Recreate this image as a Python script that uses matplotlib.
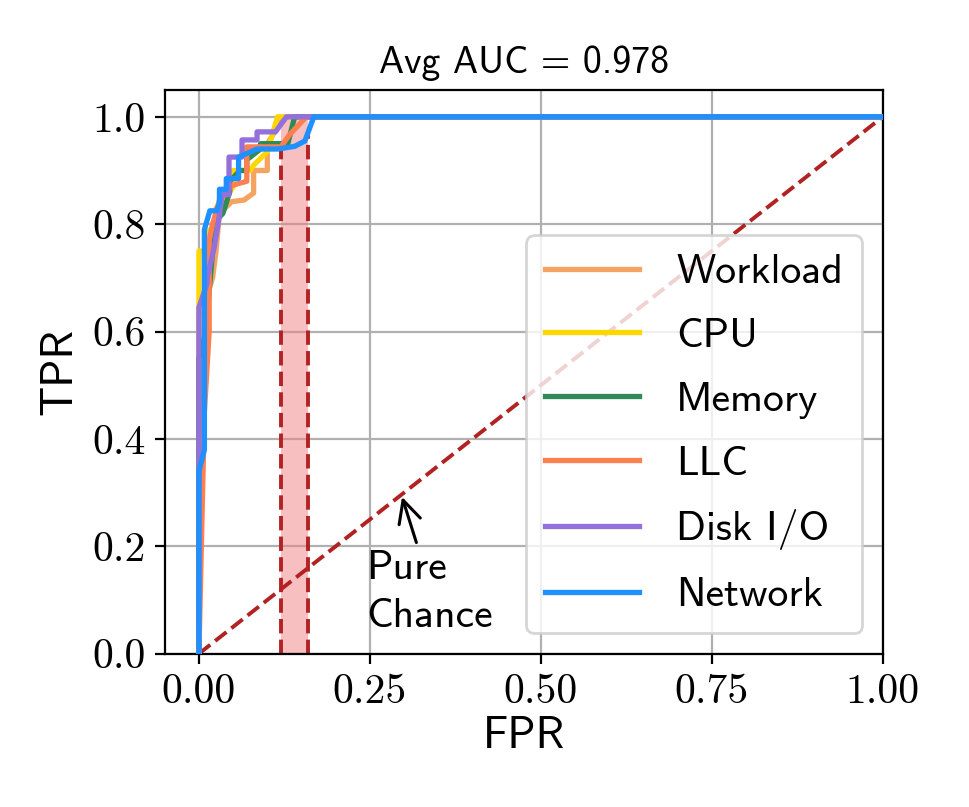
import numpy as np
import matplotlib as mpl

mpl.use("Agg")
from matplotlib import pyplot as plt

# ROC curves (FPR, TPR)
names = ["Workload", "CPU", "Memory", "LLC", "Disk I/O", "Network"]
colors = ["sandybrown", "gold", "seagreen", "coral", "mediumpurple", "dodgerblue"]

fpr_workload = [0, 0, 0.015, 0.02, 0.025, 0.03, 0.048, 0.066, 0.08, 0.08, 0.10, 0.10, 0.125, 1.0]
tpr_workload = [0, 0.63, 0.68, 0.70, 0.75, 0.82, 0.842, 0.845, 0.858, 0.90, 0.90, 0.95, 1.0, 1.0]

fpr_cpu = [0, 0, 0.012, 0.012, 0.025, 0.025, 0.04, 0.05, 0.05, 0.075, 0.08, 0.10, 0.115, 1.0]
tpr_cpu = [0, 0.75, 0.75, 0.785, 0.80, 0.83, 0.85, 0.87, 0.90, 0.90, 0.91, 0.935, 1.0, 1.0]

fpr_memory = [0, 0, 0.01, 0.02, 0.02, 0.035, 0.045, 0.045, 0.06, 0.07, 0.07, 0.09, 0.09, 0.13, 0.14, 1.0]
tpr_memory = [0, 0.55, 0.60, 0.75, 0.80, 0.82, 0.86, 0.88, 0.90, 0.90, 0.92, 0.94, 0.95, 0.95, 1.0, 1.0]

fpr_llc = [0, 0.008, 0.015, 0.015, 0.02, 0.03, 0.048, 0.07, 0.07, 0.12, 0.132, 0.157, 1.0]
tpr_llc = [0, 0.45, 0.60, 0.77, 0.80, 0.845, 0.872, 0.88, 0.944, 0.944, 0.966, 1.0, 1.0]

fpr_disk = [0, 0, 0.012, 0.012, 0.022, 0.028, 0.034, 0.044, 0.044, 0.063, 0.063, 0.085, 0.085, 0.112, 0.128, 1.0]
tpr_disk = [0, 0.645, 0.69, 0.70, 0.755, 0.80, 0.855, 0.855, 0.925, 0.925, 0.957, 0.957, 0.972, 0.972, 1.0, 1.0]

fpr_network = [0, 0, 0.008, 0.008, 0.016, 0.026, 0.030, 0.030, 0.040, 0.040, 0.058, 0.058, 0.085, 0.115, 0.140, 0.155, 0.168, 1.0]
tpr_network = [0, 0.34, 0.38, 0.79, 0.825, 0.825, 0.84, 0.865, 0.865, 0.885, 0.885, 0.925, 0.94, 0.94, 0.945, 0.955, 1.0, 1.0]

all_fpr = [fpr_workload, fpr_cpu, fpr_memory, fpr_llc, fpr_disk, fpr_network]
all_tpr = [tpr_workload, tpr_cpu, tpr_memory, tpr_llc, tpr_disk, tpr_network]

avg_auc = 0.978
# highlighted FPR band
band = [0.12, 0.16]

f = plt.figure(figsize=(4.845, 4.035), dpi=200)
ax = f.add_axes([0.170, 0.190, 0.741, 0.6985])

sans = "cmss10"
serif = "cmr10"

ax.grid(True, color="#b0b0b0", linewidth=0.8, zorder=0)
ax.set_axisbelow(True)

for fp, tp, name, c in zip(all_fpr, all_tpr, names, colors):
    ax.plot(fp, tp, color=c, lw=1.9, label=name, zorder=3)

# diagonal
ax.plot([0, 1], [0, 1], color="firebrick", ls="--", lw=1.4, zorder=2)

# band between the two dashed lines
xb = np.linspace(band[0], band[1], 50)
ys = np.array([np.interp(xb, fp, tp) for fp, tp in zip(all_fpr, all_tpr)])
ax.fill_between(xb, 0, ys.max(axis=0), color="lightcoral", alpha=0.5, lw=0, zorder=1)
for xv in band:
    top = min(np.interp(xv, fp, tp) for fp, tp in zip(all_fpr, all_tpr))
    ax.plot([xv, xv], [0, top], color="firebrick", ls="--", lw=1.4, zorder=2)

# pure chance note
ax.annotate("", xy=(0.297, 0.292), xytext=(0.318, 0.207),
            arrowprops=dict(arrowstyle="->", color="black", lw=1.1,
                            mutation_scale=20, shrinkA=0, shrinkB=0))
ax.text(0.244, 0.05, "Pure\nChance", fontsize=15, family=sans, ha="left",
        va="baseline", linespacing=1.38)

ax.set_xlim(-0.05, 1.0)
ax.set_ylim(0, 1.05)
ax.set_xticks([0, 0.25, 0.5, 0.75, 1.0])
ax.set_yticks([0, 0.2, 0.4, 0.6, 0.8, 1.0])
ax.tick_params(labelsize=15, labelfontfamily=serif)

ax.set_xlabel("FPR", fontsize=16, family=sans, labelpad=2)
ax.set_ylabel("TPR", fontsize=16, family=sans, labelpad=4)
ax.set_title("Avg AUC = %.3f" % avg_auc, fontsize=13.6, family=sans, pad=6)

leg = ax.legend(loc="lower right", prop={"family": sans, "size": 15}, framealpha=0.8,
                handlelength=2.25, handletextpad=0.9, labelspacing=0.64, borderpad=0.45)

f.savefig("out.png", dpi=200)
